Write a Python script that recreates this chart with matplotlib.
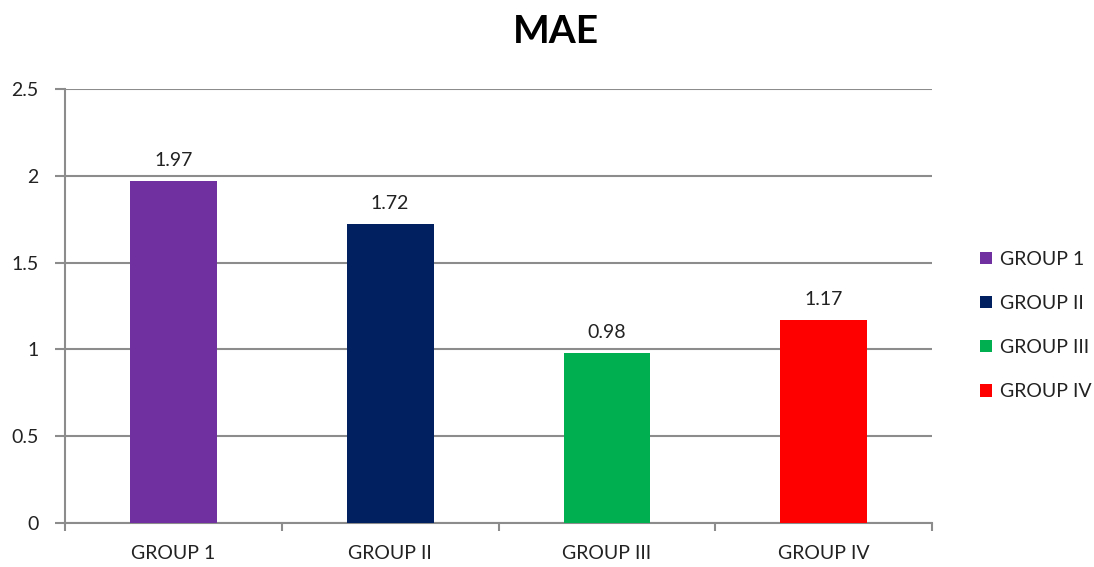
import matplotlib.pyplot as plt
from matplotlib.patches import Patch

plt.rcParams['font.family'] = ['Lato', 'DejaVu Sans']

groups = ['GROUP 1', 'GROUP II', 'GROUP III', 'GROUP IV']
mae = [1.97, 1.72, 0.98, 1.17]
colors = ['#7030A0', '#002060', '#00B050', '#FF0000']

fig = plt.figure(figsize=(10.94, 5.67), dpi=100)
ax = fig.add_axes([0.0594, 0.0776, 0.7926, 0.7654])

x = range(len(groups))
bars = ax.bar(x, mae, width=0.4, color=colors, zorder=3)
for b, v in zip(bars, mae):
    ax.text(b.get_x() + b.get_width() / 2, v + 0.07, f'{v:.2f}',
            ha='center', va='bottom', fontsize=14, color='#222222')

grid_col = '#8c8c8c'
ax.set_ylim(0, 2.5)
ax.set_xlim(-0.5, len(groups) - 0.5)
ax.set_yticks([0, 0.5, 1, 1.5, 2, 2.5])
ax.set_yticklabels(['0', '0.5', '1', '1.5', '2', '2.5'])
ax.yaxis.grid(True, color=grid_col, linewidth=1.5, zorder=0)

# labels at bar centres, tick marks on the category boundaries
ax.set_xticks(list(x))
ax.set_xticklabels(groups)
ax.set_xticks([i - 0.5 for i in range(len(groups) + 1)], minor=True)
ax.tick_params(axis='x', which='major', length=0, pad=16, labelsize=14, labelcolor='#222222')
ax.tick_params(axis='x', which='minor', length=6, width=1.5, color=grid_col)
ax.tick_params(axis='y', length=7, width=1.5, color=grid_col, pad=12, labelsize=14, labelcolor='#222222')

for s in ['top', 'right']:
    ax.spines[s].set_visible(False)
for s in ['left', 'bottom']:
    ax.spines[s].set_color(grid_col)
    ax.spines[s].set_linewidth(1.5)

fig.suptitle('MAE', x=0.508, y=0.975, fontsize=28, fontweight='bold')

handles = [Patch(facecolor=c, label=g) for c, g in zip(colors, groups)]
ax.legend(handles=handles, loc='center left', bbox_to_anchor=(1.035, 0.455),
          frameon=False, fontsize=14, handlelength=0.6, handleheight=0.6,
          handletextpad=0.45, labelspacing=1.4, labelcolor='#222222')

fig.savefig('out.png', dpi=100)
